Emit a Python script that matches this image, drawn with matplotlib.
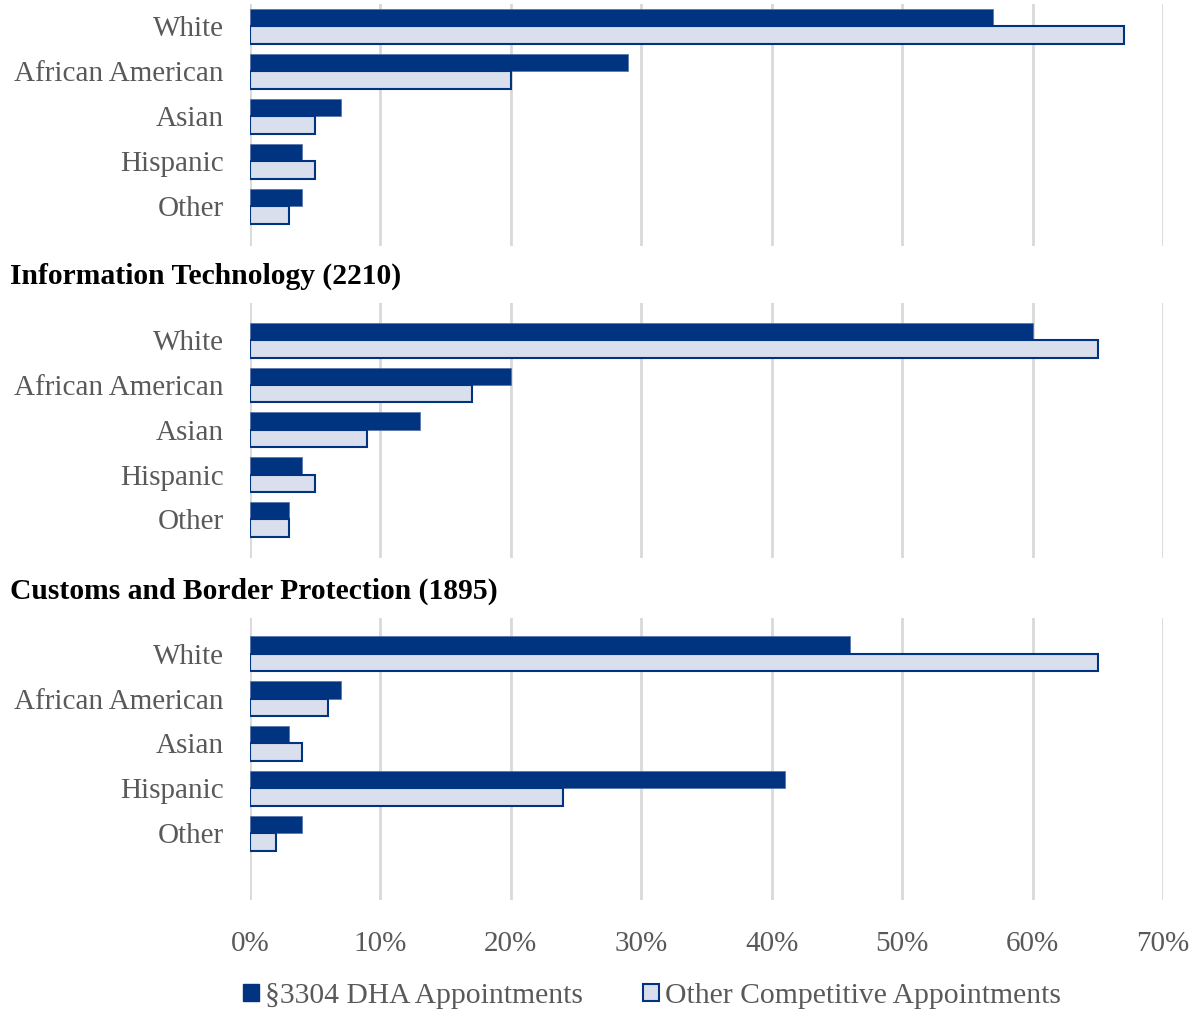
import numpy as np
import matplotlib.pyplot as plt
from matplotlib.patches import Patch
from matplotlib.ticker import FuncFormatter

categories = ["White", "African American", "Asian", "Hispanic", "Other"]
series_names = ["§3304 DHA Appointments", "Other Competitive Appointments"]
panel_titles = [None, "Information Technology (2210)", "Customs and Border Protection (1895)"]

# percentages
top_dha = [57, 29, 7, 4, 4]
top_other = [67, 20, 5, 5, 3]
it_dha = [60, 20, 13, 4, 3]
it_other = [65, 17, 9, 5, 3]
cbp_dha = [46, 7, 3, 41, 4]
cbp_other = [65, 6, 4, 24, 2]

x_ticks = [0, 10, 20, 30, 40, 50, 60, 70]

DARK = '#003380'
LIGHT = '#d9dfec'
GRID = '#d9d9d9'
TEXT = '#595959'

plt.rcParams['font.family'] = ['Liberation Serif', 'DejaVu Serif']

W, H = 1200, 1009
fig = plt.figure(figsize=(W / 100, H / 100), dpi=100)

# axes boxes in pixels: (top, bottom, ylim_top, ylim_bottom)
boxes = [(4, 246, -0.50, 4.88), (303, 558, -0.83, 4.86), (618, 900, -0.79, 5.48)]
data = [(top_dha, top_other), (it_dha, it_other), (cbp_dha, cbp_other)]

y = np.arange(len(categories))
bh = 0.39
left, right = 250, 1163

for i, ((top, bot, yt, yb), (dha, oth)) in enumerate(zip(boxes, data)):
    ax = fig.add_axes([left / W, 1 - bot / H, (right - left) / W, (bot - top) / H])
    ax.barh(y - bh / 2, dha, height=bh, color=DARK, edgecolor='#5470a8', linewidth=0.5, zorder=3)
    ax.barh(y + bh / 2, oth, height=bh, color=LIGHT, edgecolor=DARK, linewidth=1.5, zorder=3)
    ax.set_xlim(0, 70)
    ax.set_ylim(yb, yt)
    ax.set_xticks(x_ticks)
    ax.xaxis.grid(True, color=GRID, linewidth=2, zorder=0)
    ax.set_yticks(y)
    ax.set_yticklabels(categories, fontsize=21, color=TEXT)
    ax.tick_params(axis='y', length=0, pad=19)
    ax.tick_params(axis='x', length=0, colors=TEXT, labelsize=21, pad=22)
    ax.xaxis.set_major_formatter(FuncFormatter(lambda v, p: f'{v:.0f}%'))
    if i < 2:
        ax.tick_params(axis='x', labelbottom=False)
    for s in ax.spines.values():
        s.set_visible(False)
    if panel_titles[i]:
        fig.text(10 / W, 1 - (top - 27) / H, panel_titles[i], fontsize=21.3,
                 fontweight='bold', color='black', ha='left', va='center')

handles = [Patch(facecolor=DARK, edgecolor=DARK), Patch(facecolor=LIGHT, edgecolor=DARK, linewidth=1.5)]
leg = fig.legend(handles, series_names, loc='center', bbox_to_anchor=(652 / W, 1 - 996 / H),
                 ncol=2, frameon=False, fontsize=21.3, handlelength=0.55, handleheight=0.55,
                 handletextpad=0.2, columnspacing=2.0)
for t in leg.get_texts():
    t.set_color(TEXT)

fig.savefig('out.png', dpi=100)
